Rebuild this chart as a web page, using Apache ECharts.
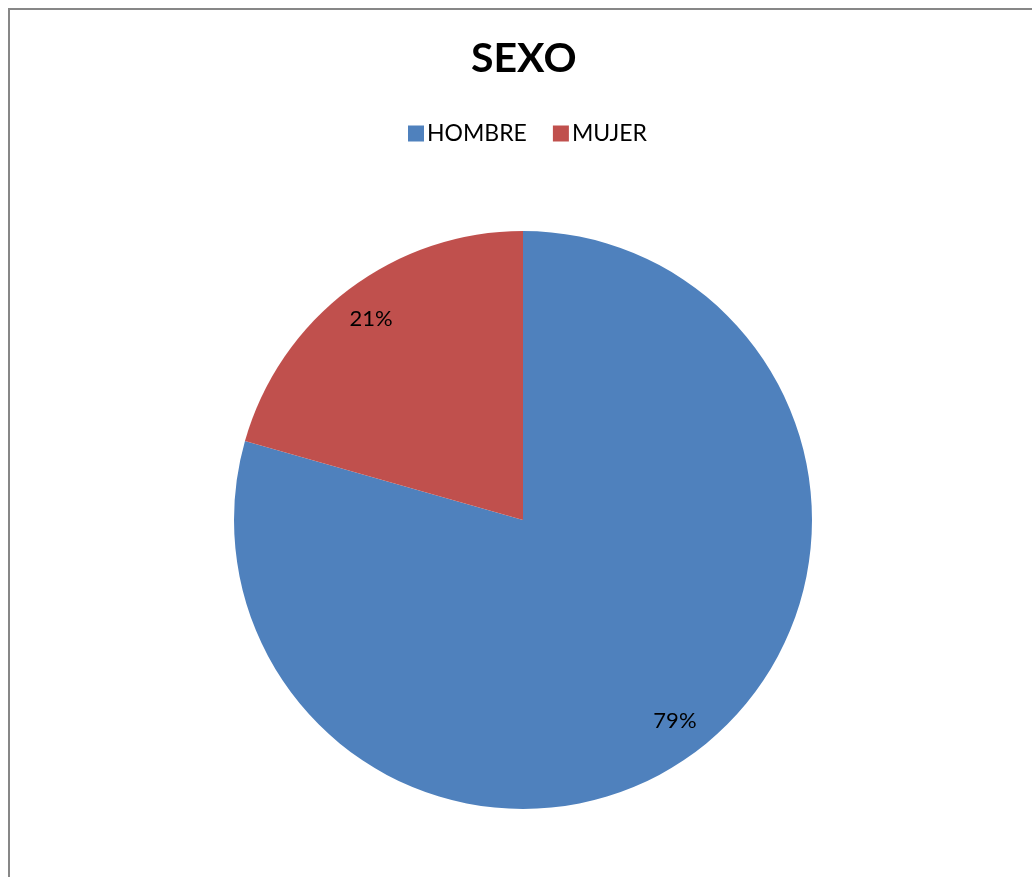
<!DOCTYPE html>
<html>
<head>
<meta charset="utf-8">
<script src="https://cdn.jsdelivr.net/npm/echarts@6/dist/echarts.min.js"></script>
<style>
html,body{margin:0;padding:0;background:#fff;}
#c{width:1032px;height:877px;}
</style>
</head>
<body>
<div id="c"></div>
<script>
var titleText = 'SEXO';
var categories = ['HOMBRE', 'MUJER'];
var values = [79.4, 20.6];
var colors = ['#4F81BD', '#C0504D'];

var data = categories.map(function (n, i) {
  return { name: n, value: values[i], itemStyle: { color: colors[i] } };
});

var chart = echarts.init(document.getElementById('c'), null, { renderer: 'canvas' });
var FONT = 'Lato';
chart.setOption({
  animation: false,
  backgroundColor: '#ffffff',
  graphic: [{
    type: 'rect',
    shape: { x: 9, y: 9, width: 1060, height: 900 },
    style: { fill: 'none', stroke: '#878787', lineWidth: 2 },
    silent: true,
    z: -10
  }, {
    type: 'text',
    left: 471,
    top: 38,
    style: { text: titleText, font: 'bold 41px Lato', fill: '#000' },
    silent: true
  }],
  legend: {
    data: categories,
    top: 117,
    left: 403,
    itemWidth: 16,
    itemHeight: 16,
    itemGap: 26,
    icon: 'rect',
    textStyle: { fontFamily: FONT, fontSize: 23, color: '#000', padding: [0, 0, 0, -2] }
  },
  series: [{
    type: 'pie',
    center: [523, 520],
    radius: [0, 289],
    startAngle: 90,
    clockwise: true,
    label: { show: false },
    labelLine: { show: false },
    silent: true,
    data: data
  }, {
    type: 'pie',
    center: [523, 520],
    radius: [209, 289],
    startAngle: 90,
    clockwise: true,
    silent: true,
    itemStyle: { color: 'rgba(0,0,0,0)' },
    label: {
      show: true,
      position: 'inside',
      formatter: function (p) { return Math.round(p.percent) + '%'; },
      fontFamily: FONT,
      fontSize: 22,
      color: '#000'
    },
    labelLine: { show: false },
    data: categories.map(function (n, i) {
      return { name: n, value: values[i], itemStyle: { color: 'rgba(0,0,0,0)' } };
    })
  }]
});
</script>
</body>
</html>
